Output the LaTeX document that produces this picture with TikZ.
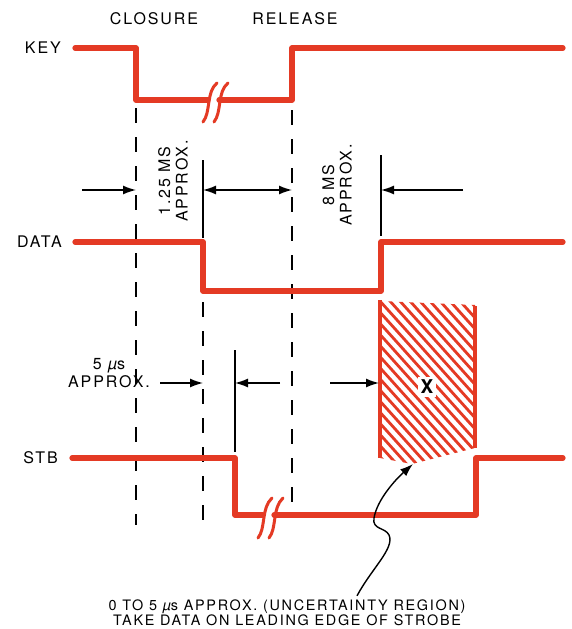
\documentclass[tikz,border=0pt]{standalone}
\usepackage{fontspec}
\setmainfont{TeX Gyre Heros}[LetterSpace=12]
\usetikzlibrary{arrows.meta}
\definecolor{sigred}{RGB}{228,58,36}
\begin{document}
\begin{tikzpicture}[x=1pt,y=-1pt,
  signal/.style={draw=sigred,line width=5.2pt,line cap=round,line join=round},
  breakmark/.style={draw=sigred,line width=3pt,line cap=round},
  dashguide/.style={draw=black,line width=1.4pt,dash pattern=on 15pt off 14pt},
  guide/.style={draw=black,line width=1.4pt},
  dim/.style={draw=black,line width=1.4pt,-{Latex[length=13pt,width=9pt]}},
  dimboth/.style={draw=black,line width=1.4pt,{Latex[length=13pt,width=9pt]}-{Latex[length=13pt,width=9pt]}},
  lbl/.style={font=\fontsize{16}{17.5}\selectfont,inner sep=0pt},
  sidelbl/.style={lbl,anchor=east},
  note/.style={font=\fontsize{14.4}{15}\selectfont,align=center,inner sep=0pt}]
\useasboundingbox (0,0) rectangle (572,629);
\fill[white] (0,0) rectangle (572,629);

% ---------- named coordinates ----------
\coordinate (closeTop) at (136,108);  \coordinate (closeBot) at (136,525);
\coordinate (dataTop)  at (203,302);  \coordinate (dataBot)  at (203,522);
\coordinate (relTop)   at (292,110);  \coordinate (relBot)   at (292,505);
\coordinate (tickDa)   at (203,160);  \coordinate (tickDb)   at (203,238);
\coordinate (tickRa)   at (381,155);  \coordinate (tickRb)   at (381,236);
\coordinate (tickSa)   at (235,350);  \coordinate (tickSb)   at (235,452);

% ---------- dashed and solid guides ----------
\draw[dashguide] (closeTop) -- (closeBot);
\draw[dashguide] (dataTop) -- (dataBot);
\draw[dashguide] (relTop) -- (relBot);
\draw[guide] (tickDa) -- (tickDb);
\draw[guide] (tickRa) -- (tickRb);
\draw[guide] (tickSa) -- (tickSb);

% ---------- hatched uncertainty region ----------
\begin{scope}
  \clip (380,301) -- (475,305) -- (475,448) -- (412,464) -- (380,458) -- cycle;
  \foreach \i in {190,200,...,490}
    \draw[sigred,line width=2.8pt] (\i,290) -- ++(180,200);
\end{scope}
\draw[sigred,line width=4pt] (380,300) -- (380,458);
\draw[sigred,line width=4pt] (475,306) -- (475,448);
\node[fill=white,inner sep=3pt,font=\fontsize{19}{20}\selectfont\bfseries] (xmark) at (427,387) {X};

% ---------- signals ----------
% KEY
\draw[signal] (75,48) -- (136,48) -- (136,100) -- (208,100);
\draw[signal] (219,100) -- (292,100) -- (292,48) -- (563,48);
\draw[breakmark] (203,122) .. controls (211,112) and (206,92) .. (217,83);
\draw[breakmark] (214,122) .. controls (222,112) and (217,92) .. (228,83);
% DATA
\draw[signal] (75,242) -- (203,242) -- (203,291) -- (381,291) -- (381,242) -- (563,242);
% STB
\draw[signal] (72,458) -- (235,458) -- (235,515) -- (263,515);
\draw[signal] (274,515) -- (476,515) -- (476,458) -- (563,458);
\draw[breakmark] (258,538) .. controls (266,528) and (261,508) .. (272,498);
\draw[breakmark] (269,538) .. controls (277,528) and (272,508) .. (283,498);

% ---------- dimension arrows ----------
\coordinate (a1) at (82,190);   \coordinate (a1e) at (136,190);
\coordinate (a2s) at (203,190); \coordinate (a2e) at (292,190);
\coordinate (a3) at (463,190);  \coordinate (a3e) at (381,190);
\coordinate (b1) at (160,383);  \coordinate (b1e) at (203,383);
\coordinate (b2) at (280,383);  \coordinate (b2e) at (235,383);
\coordinate (b3) at (330,383);  \coordinate (b3e) at (379,383);
\draw[dim] (a1) -- (a1e);
\draw[dimboth] (a2s) -- (a2e);
\draw[dim] (a3) -- (a3e);
\draw[dim] (b1) -- (b1e);
\draw[dim] (b2) -- (b2e);
\draw[dim] (b3) -- (b3e);

% ---------- labels ----------
\node[lbl] (closure) at (154,19) {CLOSURE};
\node[lbl] (release) at (295,19) {RELEASE};
\node[sidelbl] (key) at (61,48) {KEY};
\node[sidelbl] (data) at (62,242) {DATA};
\node[sidelbl] (stb) at (58,458) {STB};
\node[lbl,rotate=90,align=center] (t125) at (173,181) {1.25 MS\\APPROX.};
\node[lbl,rotate=90,align=center] (t8) at (337,185) {8 MS\\APPROX.};
\node[lbl,align=center,anchor=east] (t5) at (150,373) {5 {\itshape µ}s\\APPROX.};
\node[note] (bottom) at (287,613) {0 TO 5 {\itshape µ}s APPROX. (UNCERTAINTY REGION)\\TAKE DATA ON LEADING EDGE OF STROBE};

% ---------- pointer to uncertainty region ----------
\coordinate (hatchtip) at (413,464);
\draw[line width=1.4pt,-{Latex[length=13pt,width=9pt]}] (bottom.north -| 357,0) ++(0,-4)
  .. controls (372,568) and (395,548) .. (389,535)
  .. controls (385,527) and (372,530) .. (374,518)
  .. controls (377,500) and (395,480) .. (hatchtip);
\end{tikzpicture}
\end{document}
